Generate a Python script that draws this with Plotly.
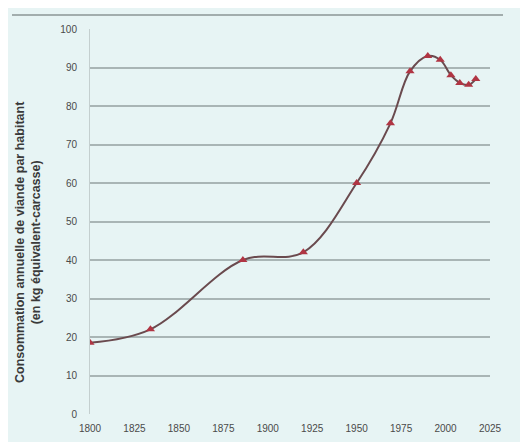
import plotly.graph_objects as go

years = [1800, 1834, 1886, 1920, 1950, 1969, 1980, 1990, 1997, 2003, 2008, 2013, 2017]
values = [18.5, 22, 40, 42, 60, 75.5, 89, 93, 92, 88, 86, 85.5, 87]

x_ticks = [1800, 1825, 1850, 1875, 1900, 1925, 1950, 1975, 2000, 2025]
y_ticks = [0, 10, 20, 30, 40, 50, 60, 70, 80, 90, 100]

y_title = "Consommation annuelle de viande par habitant<br>(en kg équivalent-carcasse)"

# page has an 8px body margin: figure is drawn at (8, 8)
W, H = 520, 434
L, R, T, B = 82, 38, 21, 28
pw, ph = W - L - R, H - T - B

def px(x):
    return (x - L) / pw

def py(y):
    return (H - B - y) / ph

fig = go.Figure()
fig.add_trace(go.Scatter(
    x=years, y=values, mode="lines+markers",
    line=dict(color="#6a4a4e", width=2, shape="spline", smoothing=1.0),
    marker=dict(symbol="triangle-up", size=8, color="#b03543"),
    showlegend=False,
))

fig.add_shape(type="line", xref="paper", yref="paper",
              x0=px(4), x1=px(495), y0=py(7), y1=py(7),
              line=dict(color="#a2adad", width=2))

fig.add_annotation(text=y_title, xref="paper", yref="paper",
                   x=px(20), y=py(234), xanchor="center", yanchor="middle",
                   textangle=-90, showarrow=False,
                   font=dict(size=12.5, color="#3a3a3a", weight="bold"))

fig.update_layout(
    width=W, height=H,
    margin=dict(l=L, r=R, t=T, b=B, autoexpand=False),
    paper_bgcolor="#e7f4f4",
    plot_bgcolor="rgba(0,0,0,0)",
    font=dict(family="Liberation Sans, Arial, sans-serif", color="#444444"),
    xaxis=dict(range=[1800, 2025], tickvals=x_ticks, ticktext=[str(t) for t in x_ticks],
               showgrid=False, zeroline=False, showline=False, automargin=False,
               tickfont=dict(size=10, color="#4a4a4a"), ticks="", ticklabelstandoff=7),
    yaxis=dict(range=[0, 100], tickvals=y_ticks, showgrid=True, gridcolor="#a9b5b5",
               gridwidth=1.5, zeroline=False, showline=True, linecolor="#c4cfcf",
               linewidth=1, automargin=False, tickfont=dict(size=10, color="#4a4a4a"),
               ticks="", ticklabelstandoff=10),
)

fig.write_html("out.html")
